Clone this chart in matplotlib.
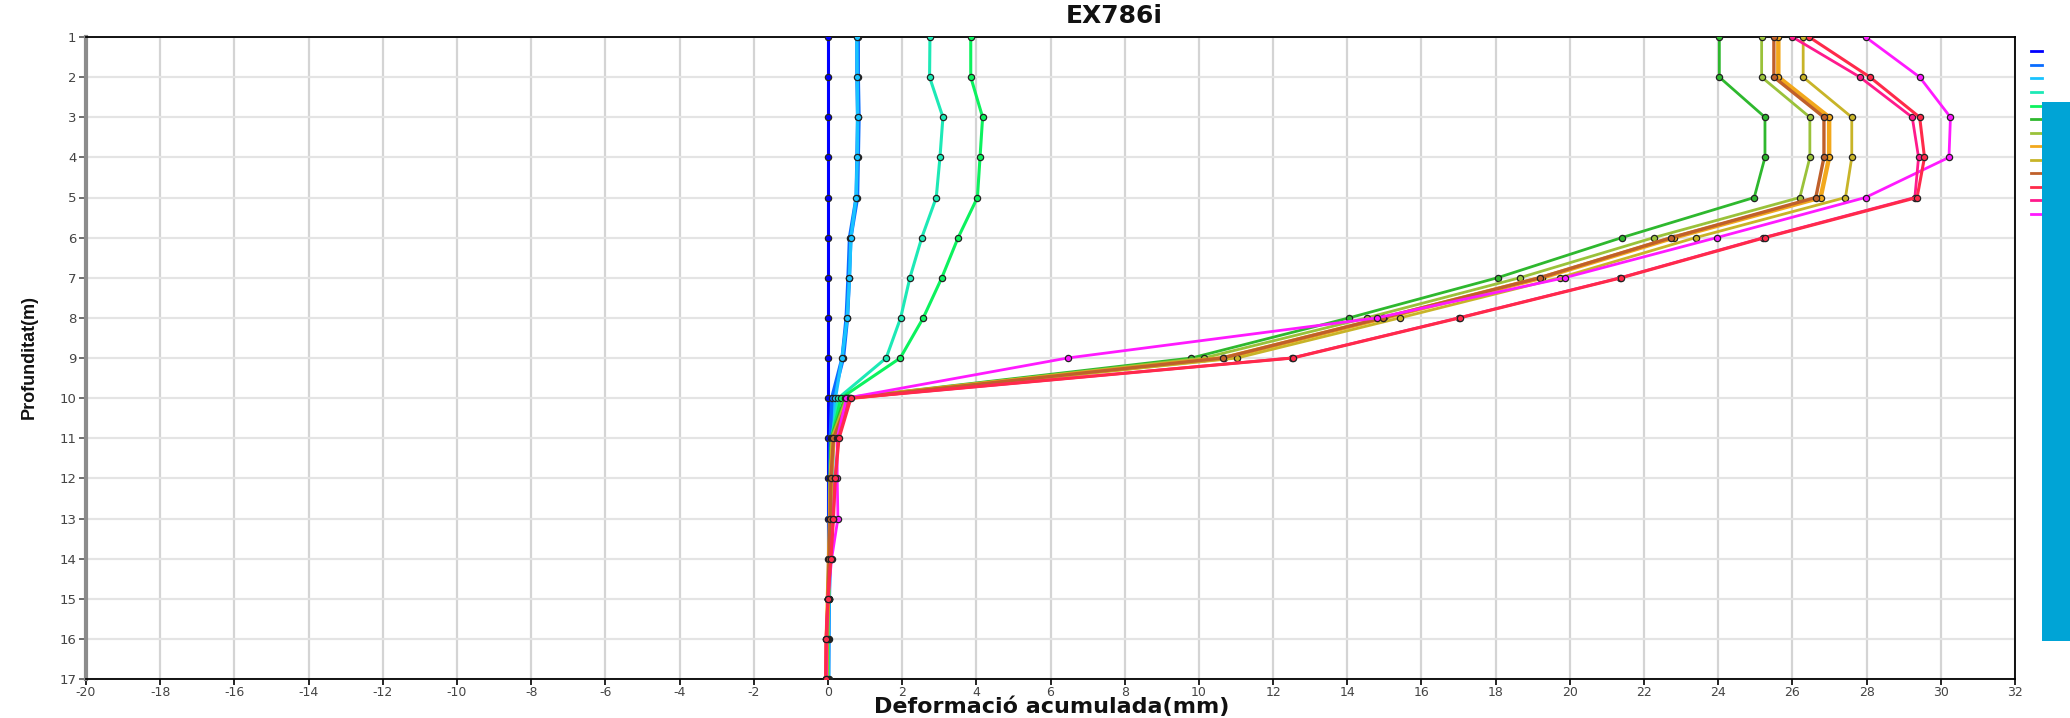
import matplotlib
matplotlib.use("Agg")
import matplotlib.pyplot as plt
from matplotlib.patches import Rectangle

# ---- data ----
depths = [1, 2, 3, 4, 5, 6, 7, 8, 9, 10, 11, 12, 13, 14, 15, 16, 17]

s01 = [0.0, 0.0, 0.0, 0.0, 0.0, 0.0, 0.0, 0.0, 0.0, 0.0, 0.0, 0.0, 0.0, 0.0, 0.0, 0.0, 0.0]
s02 = [0.80, 0.80, 0.82, 0.80, 0.78, 0.60, 0.56, 0.51, 0.40, 0.12, 0.08, 0.06, 0.05, 0.04, 0.02, 0.01, 0.0]
s03 = [0.78, 0.79, 0.80, 0.79, 0.76, 0.62, 0.58, 0.52, 0.38, 0.20, 0.15, 0.12, 0.10, 0.06, 0.03, 0.02, 0.02]
s04 = [2.75, 2.74, 3.10, 3.02, 2.92, 2.53, 2.21, 1.96, 1.57, 0.28, 0.10, 0.08, 0.07, 0.05, 0.02, 0.0, 0.0]
s05 = [3.85, 3.85, 4.17, 4.10, 4.03, 3.51, 3.07, 2.57, 1.95, 0.35, 0.10, 0.08, 0.07, 0.05, 0.02, 0.0, 0.0]
s06 = [24.03, 24.03, 25.26, 25.26, 24.97, 21.40, 18.05, 14.05, 9.80, 0.45, 0.08, 0.05, 0.05, 0.03, 0.0, -0.03, -0.03]
s07 = [25.17, 25.17, 26.47, 26.47, 26.20, 22.26, 18.65, 14.52, 10.13, 0.50, 0.10, 0.06, 0.05, 0.03, 0.0, -0.03, -0.03]
s08 = [25.62, 25.62, 26.99, 26.99, 26.76, 22.80, 19.24, 15.00, 10.68, 0.55, 0.15, 0.08, 0.06, 0.03, 0.0, -0.03, -0.04]
s09 = [26.29, 26.29, 27.60, 27.60, 27.43, 23.39, 19.73, 15.42, 11.03, 0.55, 0.15, 0.08, 0.06, 0.03, 0.0, -0.03, -0.04]
s10 = [25.50, 25.50, 26.85, 26.85, 26.63, 22.74, 19.19, 14.95, 10.64, 0.56, 0.15, 0.08, 0.06, 0.03, 0.0, -0.03, -0.04]
s11 = [26.45, 28.09, 29.43, 29.56, 29.36, 25.26, 21.39, 17.03, 12.53, 0.62, 0.30, 0.20, 0.15, 0.08, 0.0, -0.05, -0.06]
s12 = [26.00, 27.82, 29.23, 29.40, 29.30, 25.22, 21.36, 17.00, 12.50, 0.60, 0.28, 0.19, 0.14, 0.08, 0.0, -0.05, -0.06]
s13 = [27.97, 29.43, 30.26, 30.22, 27.97, 23.96, 19.86, 14.80, 6.46, 0.50, 0.25, 0.25, 0.27, 0.10, 0.0, -0.04, -0.04]

series = [s01, s02, s03, s04, s05, s06, s07, s08, s09, s10, s11, s12, s13]
colors = ['#0000ff', '#0a6cff', '#19c3ff', '#1de9b6', '#0cf25e', '#2eb82e', '#9ac23a',
          '#f2a81c', '#c8b428', '#c0602a', '#ff2a4a', '#ff1a8c', '#ff1aff']
widths = [2.2, 3.4, 2.4, 2.2, 2.2, 2.0, 2.0, 3.2, 2.0, 2.4, 2.2, 2.0, 2.0]
zorders = [3, 3, 3, 3, 3, 3, 3, 3, 3, 3, 3.6, 3.4, 3.2]

title = "EX786i"
xlabel = "Deformació acumulada(mm)"
ylabel = "Profunditat(m)"
xticks = list(range(-20, 33, 2))
yticks = list(range(1, 18))

# ---- figure ----
fig = plt.figure(figsize=(20.70, 7.18), dpi=100)
ax = fig.add_axes([86 / 2070, 1 - 679 / 718, (2015 - 86) / 2070, (679 - 37) / 718])

handles = []
for vals, c, w, z in zip(series, colors, widths, zorders):
    ln, = ax.plot(vals, depths, color=c, lw=w, marker='o', markersize=4.5,
                  markerfacecolor=c, markeredgecolor='#222222', markeredgewidth=0.9,
                  solid_joinstyle='round', zorder=z)
    handles.append(ln)

ax.set_xlim(-20, 32)
ax.set_ylim(17, 1)
ax.set_xticks(xticks)
ax.set_yticks(yticks)
ax.set_xticklabels([str(t) for t in xticks])
ax.set_yticklabels([str(t) for t in yticks])

ax.grid(True, axis='x', color='#d4d4d4', lw=1.6, zorder=0)
ax.grid(True, axis='y', color='#e4e4e4', lw=1.6, zorder=0)
ax.set_axisbelow(True)

for side in ['top', 'bottom', 'right']:
    ax.spines[side].set_color('black')
    ax.spines[side].set_linewidth(1.3)
ax.spines['left'].set_color('#8c8c8c')
ax.spines['left'].set_linewidth(3.0)

ax.tick_params(axis='x', direction='out', length=4, width=1.2, color='black',
               labelsize=9, labelcolor='#444444', pad=1)
ax.tick_params(axis='y', direction='out', length=5, width=1.2, color='#555555',
               labelsize=9.5, labelcolor='#444444', pad=2)
for lab in ax.get_xticklabels() + ax.get_yticklabels():
    lab.set_fontfamily('DejaVu Sans')

fig.text(1114 / 2070, 1 - 16 / 718, title, ha='center', va='center',
         fontsize=18, fontweight='bold', family='DejaVu Sans', color='#111111')
fig.text(1052 / 2070, 1 - 697 / 718, xlabel, ha='center', va='top',
         fontsize=16, fontweight='bold', family='DejaVu Sans', color='#111111')
fig.text(29 / 2070, 1 - 357 / 718, ylabel, ha='center', va='center', rotation=90,
         fontsize=13, fontweight='bold', family=['Liberation Sans Narrow', 'Liberation Sans', 'DejaVu Sans'],
         color='#111111')

leg = fig.legend(handles, [''] * len(handles), loc='upper left',
                 bbox_to_anchor=(2029 / 2070, 1 - 45 / 718), frameon=False,
                 fontsize=8, handlelength=1.0, handleheight=0.7, labelspacing=0.32,
                 handletextpad=0.0, borderpad=0.2, borderaxespad=0.0)
for h in leg.legend_handles:
    h.set_marker('')
    h.set_linewidth(2.0)

fig.patches.append(Rectangle((2042 / 2070, 1 - 641 / 718), 40 / 2070, (641 - 102) / 718,
                             transform=fig.transFigure, facecolor='#00a4d6',
                             edgecolor='none', zorder=10))

fig.savefig("out.png", dpi=100)
